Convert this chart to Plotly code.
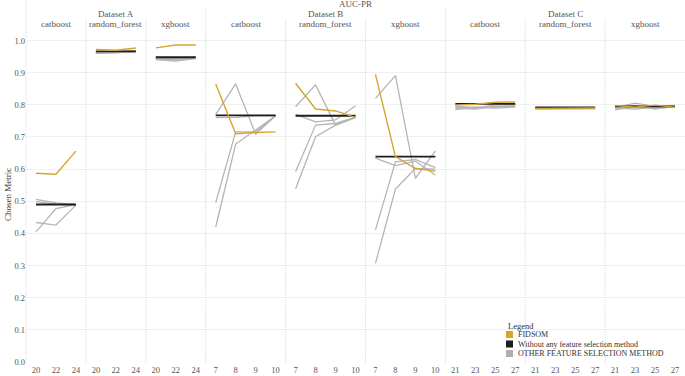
import plotly.graph_objects as go
from plotly.subplots import make_subplots

# ---------------- data ----------------
A_X = [20, 22, 24]
B_X = [7, 8, 9, 10]
C_X = [21, 23, 25, 27]

DATASETS = ["Dataset A", "Dataset B", "Dataset C"]
MODELS = ["catboost", "random_forest", "xgboost"]

# Dataset A
A_CAT_FIDSOM = [0.587, 0.584, 0.656]
A_CAT_NONE = [0.490, 0.490, 0.490]
A_CAT_OTHER = [[0.506, 0.495, 0.490], [0.499, 0.491, 0.488],
               [0.434, 0.426, 0.488], [0.405, 0.477, 0.490]]

A_RF_FIDSOM = [0.972, 0.970, 0.977]
A_RF_NONE = [0.966, 0.966, 0.966]
A_RF_OTHER = [[0.962, 0.964, 0.967], [0.960, 0.963, 0.965],
              [0.964, 0.966, 0.968], [0.961, 0.962, 0.966]]

A_XGB_FIDSOM = [0.977, 0.986, 0.986]
A_XGB_NONE = [0.948, 0.948, 0.948]
A_XGB_OTHER = [[0.944, 0.938, 0.946], [0.941, 0.936, 0.944],
               [0.946, 0.944, 0.947], [0.945, 0.940, 0.948]]

# Dataset B
B_CAT_FIDSOM = [0.865, 0.710, 0.714, 0.716]
B_CAT_NONE = [0.767, 0.767, 0.767, 0.767]
B_CAT_OTHER = [[0.770, 0.865, 0.709, 0.766], [0.760, 0.761, 0.766, 0.766],
               [0.496, 0.716, 0.716, 0.766], [0.420, 0.678, 0.722, 0.766]]

B_RF_FIDSOM = [0.867, 0.787, 0.781, 0.761]
B_RF_NONE = [0.766, 0.766, 0.766, 0.766]
B_RF_OTHER = [[0.794, 0.862, 0.737, 0.762], [0.770, 0.747, 0.753, 0.797],
              [0.592, 0.737, 0.742, 0.762], [0.539, 0.701, 0.737, 0.760]]

B_XGB_FIDSOM = [0.895, 0.639, 0.602, 0.594]
B_XGB_NONE = [0.639, 0.639, 0.639, 0.639]
B_XGB_OTHER = [[0.820, 0.891, 0.571, 0.657], [0.634, 0.611, 0.625, 0.582],
               [0.411, 0.623, 0.630, 0.605], [0.307, 0.538, 0.602, 0.600]]

# Dataset C
C_CAT_FIDSOM = [0.799, 0.802, 0.808, 0.809]
C_CAT_NONE = [0.803, 0.803, 0.803, 0.803]
C_CAT_OTHER = [[0.790, 0.787, 0.795, 0.797], [0.795, 0.792, 0.793, 0.795],
               [0.785, 0.793, 0.790, 0.793], [0.792, 0.790, 0.800, 0.800]]

C_RF_FIDSOM = [0.789, 0.790, 0.789, 0.790]
C_RF_NONE = [0.792, 0.792, 0.792, 0.792]
C_RF_OTHER = [[0.788, 0.787, 0.788, 0.789], [0.790, 0.789, 0.790, 0.790],
              [0.787, 0.788, 0.787, 0.788], [0.789, 0.790, 0.789, 0.788]]

C_XGB_FIDSOM = [0.798, 0.793, 0.799, 0.793]
C_XGB_NONE = [0.795, 0.795, 0.795, 0.795]
C_XGB_OTHER = [[0.791, 0.805, 0.795, 0.797], [0.784, 0.795, 0.787, 0.796],
               [0.790, 0.787, 0.792, 0.793], [0.793, 0.798, 0.789, 0.794]]

Y_TICKS = [0.0, 0.1, 0.2, 0.3, 0.4, 0.5, 0.6, 0.7, 0.8, 0.9, 1.0]
LEGEND_LABELS = ["FIDSOM", "Without any feature selection method",
                 "OTHER FEATURE SELECTION METHOD"]

# ---------------- styling ----------------
FONT = "Liberation Serif"
GOLD = "#D6A52E"
BLACK = "#1c1c1c"
GRAY = "#b5b5b5"
TXT = "#555555"

panels = [
    (A_X, A_CAT_FIDSOM, A_CAT_NONE, A_CAT_OTHER),
    (A_X, A_RF_FIDSOM, A_RF_NONE, A_RF_OTHER),
    (A_X, A_XGB_FIDSOM, A_XGB_NONE, A_XGB_OTHER),
    (B_X, B_CAT_FIDSOM, B_CAT_NONE, B_CAT_OTHER),
    (B_X, B_RF_FIDSOM, B_RF_NONE, B_RF_OTHER),
    (B_X, B_XGB_FIDSOM, B_XGB_NONE, B_XGB_OTHER),
    (C_X, C_CAT_FIDSOM, C_CAT_NONE, C_CAT_OTHER),
    (C_X, C_RF_FIDSOM, C_RF_NONE, C_RF_OTHER),
    (C_X, C_XGB_FIDSOM, C_XGB_NONE, C_XGB_OTHER),
]

widths = [len(p[0]) for p in panels]
fig = make_subplots(rows=1, cols=9, column_widths=widths,
                    horizontal_spacing=0, shared_yaxes=True)

for i, (xs, fid, none, others) in enumerate(panels, start=1):
    for o in others:
        fig.add_trace(go.Scatter(x=xs, y=o, mode="lines",
                                 line=dict(color=GRAY, width=1.3),
                                 showlegend=False, hoverinfo="skip"), row=1, col=i)
    fig.add_trace(go.Scatter(x=xs, y=none, mode="lines",
                             line=dict(color=BLACK, width=1.8),
                             showlegend=False), row=1, col=i)
    fig.add_trace(go.Scatter(x=xs, y=fid, mode="lines",
                             line=dict(color=GOLD, width=1.4),
                             showlegend=False), row=1, col=i)
    step = xs[1] - xs[0]
    fig.update_xaxes(range=[xs[0] - step / 2, xs[-1] + step / 2],
                     tickvals=xs, ticktext=[str(v) for v in xs],
                     showgrid=False, zeroline=False, showline=False,
                     ticks="", automargin=False,
                     tickfont=dict(size=8.5, color=TXT, family=FONT),
                     row=1, col=i)

fig.update_yaxes(range=[-0.003, 1.067], tickvals=Y_TICKS,
                 ticktext=[f"{v:.1f}" for v in Y_TICKS],
                 showgrid=True, gridcolor="#f0f0f0", gridwidth=1,
                 zeroline=False, showline=False, ticks="", automargin=False,
                 tickfont=dict(size=8.5, color=TXT, family=FONT))

# plot area: top 19px, bottom 363px -> 344px tall
H = 344.0
def py(ypx):
    return (363.0 - ypx) / H

W = 659.0
def px(xpx):
    return (xpx - 26.0) / W

shapes = []
annotations = []
for i in range(1, 10):
    xr = "x domain" if i == 1 else f"x{i} domain"
    if i == 1:
        top = py(0)
    elif i in (4, 7):
        top = py(9)
    else:
        top = py(18)
    shapes.append(dict(type="line", xref=xr, yref="paper", x0=0, x1=0,
                       y0=0, y1=top,
                       line=dict(color="#d2d2d2", width=1, dash="1px,1.5px")))
    annotations.append(dict(text=MODELS[(i - 1) % 3], xref=xr, yref="paper",
                            x=0.5, y=py(23.5), showarrow=False,
                            font=dict(size=9, color=TXT, family=FONT),
                            xanchor="center", yanchor="middle"))
    if (i - 1) % 3 == 1:
        annotations.append(dict(text=DATASETS[(i - 1) // 3], xref=xr, yref="paper",
                                x=0.5, y=py(13.5), showarrow=False,
                                font=dict(size=9, color=TXT, family=FONT),
                                xanchor="center", yanchor="middle"))

annotations.append(dict(text="AUC-PR", xref="paper", yref="paper", x=0.5, y=py(4),
                        showarrow=False, font=dict(size=9, color=TXT, family=FONT),
                        xanchor="center", yanchor="middle"))
annotations.append(dict(text="Chosen Metric", xref="paper", yref="paper",
                        x=px(8), y=py(195), textangle=-90, showarrow=False,
                        font=dict(size=9, color="#333", family=FONT),
                        xanchor="center", yanchor="middle"))

# legend drawn manually (compact spacing like the reference)
annotations.append(dict(text="Legend", xref="paper", yref="paper", x=px(506), y=py(326),
                        showarrow=False, font=dict(size=8.5, color="#333", family=FONT),
                        xanchor="left", yanchor="middle"))
for k, (lab, col) in enumerate(zip(LEGEND_LABELS, [GOLD, BLACK, "#b0b0b0"])):
    yc = 334.5 + k * 9.5
    shapes.append(dict(type="rect", xref="paper", yref="paper",
                       x0=px(506), x1=px(513), y0=py(yc + 3.5), y1=py(yc - 3.5),
                       fillcolor=col, line=dict(width=0)))
    annotations.append(dict(text=lab, xref="paper", yref="paper", x=px(516), y=py(yc),
                            showarrow=False, font=dict(size=8, color="#333", family=FONT),
                            xanchor="left", yanchor="middle"))

fig.update_layout(width=685, height=376,
                  margin=dict(l=26, r=0, t=19, b=13),
                  plot_bgcolor="white", paper_bgcolor="white",
                  showlegend=False, shapes=shapes, annotations=annotations,
                  font=dict(family=FONT))

fig.write_html("out.html", config={"displayModeBar": False},
               post_script="document.body.style.margin='0px';"
                           "document.body.style.overflow='hidden';")
